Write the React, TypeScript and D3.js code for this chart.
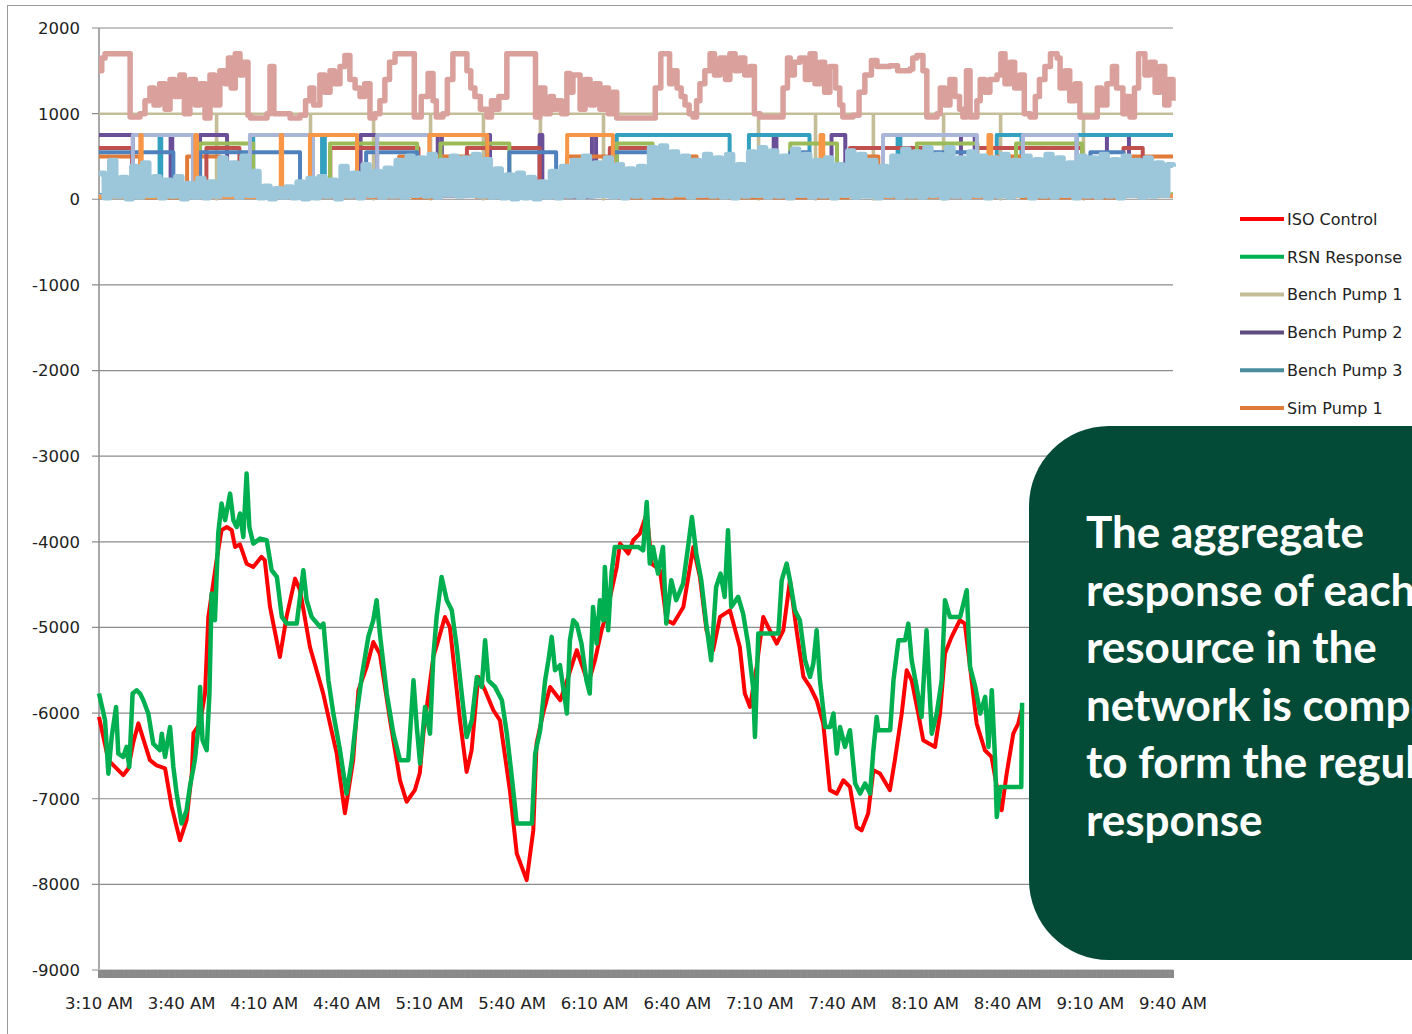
import React from "react";
import * as d3 from "d3";

// ---------- DATA ----------
const xTickLabels = ["3:10 AM","3:40 AM","4:10 AM","4:40 AM","5:10 AM","5:40 AM","6:10 AM","6:40 AM","7:10 AM","7:40 AM","8:10 AM","8:40 AM","9:10 AM","9:40 AM"];
const xTickMinutes = [0,30,60,90,120,150,180,210,240,270,300,330,360,390];
const yTicks = [2000,1000,0,-1000,-2000,-3000,-4000,-5000,-6000,-7000,-8000,-9000];

// minutes after 3:10 AM, MW
const isoControl: [number, number][] = [[0,-6045],[3.4,-6550],[8.8,-6725],[10.6,-6650],[12.4,-6350],[14.3,-6120],[18.5,-6550],[20.9,-6610],[24,-6645],[26.4,-7095],[29.4,-7485],[31.8,-7250],[33.7,-6700],[34.3,-6235],[36.7,-6120],[38.5,-5770],[39.7,-4877],[42.7,-4215],[44.5,-3865],[46.4,-3826],[48.2,-3865],[49.4,-4060],[51.2,-4030],[53.6,-4255],[56,-4295],[59,-4175],[60.2,-4215],[62.1,-4760],[65.7,-5345],[68.1,-4877],[71.2,-4430],[73,-4565],[76.6,-5228],[81.4,-5770],[86.3,-6470],[89.3,-7170],[92.3,-6550],[94.2,-5735],[97.2,-5460],[99.6,-5170],[102,-5310],[105.7,-6085],[109.3,-6785],[111.7,-7035],[114.7,-6900],[116.5,-6700],[117.8,-6235],[121.4,-5345],[123.2,-5150],[125.6,-4877],[127.4,-4995],[131.1,-6085],[133.5,-6687],[135.3,-6435],[137.7,-5578],[140.2,-5735],[143.2,-5967],[145.6,-6085],[149.2,-6900],[151.7,-7640],[155.3,-7950],[157.7,-7370],[158.9,-6350],[161.3,-6000],[163.8,-5695],[167.5,-5850],[169.2,-5695],[173.5,-5266],[177.7,-5655],[180.1,-5383],[182.5,-5033],[184.3,-4838],[188,-4295],[189.2,-4020],[192.2,-4137],[194,-3982],[196.4,-3904],[198.9,-3670],[200.7,-4254],[203.7,-4332],[206.1,-4916],[208.6,-4955],[212.2,-4760],[215.8,-4060],[218.2,-4410],[220.6,-5033],[223,-5266],[225.5,-4877],[229.1,-4800],[232.7,-5228],[234.5,-5770],[236.4,-5928],[238.8,-5460],[241.2,-4877],[243.6,-5033],[246.1,-5188],[248.5,-5033],[250.9,-4449],[253.3,-5033],[255.8,-5578],[258.2,-5695],[260.6,-5850],[263,-6122],[265.4,-6900],[267.9,-6940],[270.3,-6784],[272.7,-6862],[275.1,-7330],[276.9,-7370],[279.3,-7173],[281.2,-6667],[283.6,-6706],[287.2,-6900],[289,-6550],[291.5,-6005],[293.3,-5500],[295.1,-5617],[297.5,-6005],[299.3,-6317],[303.6,-6395],[305.4,-6005],[307.2,-5305],[309.6,-5110],[312.6,-4916],[314.4,-4955],[316.3,-5460],[318.7,-6122],[321.7,-6434],[324.1,-6512],[326.5,-6940],[327.8,-7135],[329.6,-6706],[332,-6239],[333.8,-6122],[335,-5967]];

const rsnResponse: [number, number][] = [[0,-5772],[2.2,-6084],[3.4,-6707],[4.6,-6279],[6.2,-5928],[7,-6473],[8.8,-6512],[10,-6395],[11,-6629],[12.2,-5772],[13.7,-5733],[14.9,-5772],[16.1,-5850],[17.9,-6005],[19.7,-6356],[22.1,-6434],[22.8,-6240],[24,-6512],[25.8,-6162],[27,-6629],[28.2,-6940],[30,-7290],[31.8,-7135],[33,-6862],[34.8,-6550],[36.1,-6162],[36.7,-5694],[37.6,-6317],[39.1,-6434],[40.1,-5772],[40.9,-4604],[42.1,-4916],[43.3,-3904],[44.5,-3553],[45.8,-3747],[47.6,-3437],[48.8,-3747],[50,-3826],[51.2,-3670],[52.4,-3943],[53.6,-3203],[54.6,-3826],[56,-4021],[58.5,-3962],[60.9,-3982],[62.7,-4332],[64.6,-4410],[66.4,-4877],[68.2,-4955],[71.8,-4955],[74.2,-4332],[75.4,-4682],[77.2,-4877],[80.3,-4995],[81.5,-4955],[83.3,-5617],[85.1,-6005],[87.5,-6434],[89.9,-6940],[91.8,-6550],[93.6,-6005],[95.4,-5578],[97.8,-5110],[99.6,-4916],[100.8,-4682],[102,-5072],[104.5,-5772],[106.9,-6240],[109.3,-6550],[112.3,-6550],[114.2,-5617],[115.4,-6162],[116.6,-6590],[118.4,-5928],[120.2,-6240],[121.4,-5345],[122.6,-4877],[124.4,-4410],[126.3,-4682],[128.1,-4799],[129.9,-5228],[131.7,-5772],[133.5,-6279],[135.4,-6084],[137.2,-5578],[139,-5694],[140.2,-5150],[141.4,-5617],[143.8,-5694],[146.3,-5850],[148.1,-6240],[149.9,-6745],[151.7,-7290],[157.2,-7290],[158.4,-6473],[160.2,-6200],[162,-5617],[163.2,-5383],[164.4,-5110],[165.6,-5500],[167.4,-5441],[169.9,-6005],[171,-5150],[172.2,-4916],[173.5,-4960],[175.2,-5188],[177,-5617],[178.2,-5772],[179.4,-4760],[180.7,-5188],[181.9,-4682],[183.1,-4916],[183.7,-4293],[184.9,-5033],[186.1,-4371],[187.3,-4060],[195.8,-4060],[197.6,-4099],[198.9,-3534],[200,-4254],[201.2,-4060],[203,-4371],[204.8,-4060],[206,-4955],[207.8,-4449],[209.6,-4682],[212.1,-4488],[213.9,-4060],[215.3,-3710],[216.9,-4138],[218.7,-4449],[220.5,-4955],[222.3,-5383],[224.1,-4527],[225.7,-4371],[227.2,-4643],[228.4,-3865],[229.6,-4760],[232.1,-4643],[233.9,-4838],[235.7,-5188],[237.5,-5694],[238.2,-6279],[239.4,-5072],[246.7,-5072],[247.9,-4449],[249.7,-4254],[250.9,-4449],[252.7,-4799],[254.5,-4916],[256.4,-5383],[258.2,-5578],[259.4,-5422],[260.6,-5033],[261.8,-5617],[263.7,-6162],[265.5,-6162],[266.7,-6005],[267.9,-6473],[269.1,-6162],[270.9,-6395],[272.7,-6200],[274.6,-6823],[276.4,-6940],[278.2,-6823],[280,-6940],[281.2,-6434],[282.4,-6045],[283,-6200],[287.3,-6200],[288.5,-5617],[290.3,-5150],[292.7,-5150],[293.9,-4955],[295.1,-5383],[296.9,-5694],[298.7,-6045],[300.5,-5033],[302.4,-6240],[304.2,-6005],[306,-5617],[307.2,-4682],[309,-4877],[312.7,-4877],[315.1,-4565],[316.3,-5461],[318.2,-5694],[320,-6005],[321.8,-5811],[323,-6395],[324.2,-5733],[325.4,-6550],[326,-7213],[327.3,-6862],[334.9,-6862],[335.2,-5880]];

// step series: [minute, value]
const benchPump1: [number, number][] = [[0,1000],[42.5,0],[42.9,1000],[76.6,0],[77,1000],[99.5,0],[99.9,1000],[120.2,0],[120.6,1000],[139.4,0],[139.8,1000],[160.1,0],[160.5,1000],[183,0],[183.4,1000],[239.3,0],[239.7,1000],[260,0],[260.4,1000],[281,0],[281.4,1000],[306.5,0],[306.9,1000],[327.2,0],[327.6,1000],[357.3,0],[357.7,1000],[390,1000]];
const benchPump2: [number, number][] = [[0,750],[12.3,40],[26,750],[26.6,40],[36.7,750],[46.5,50],[95,750],[101,40],[123,750],[124.5,60],[141,750],[142,60],[160,750],[161,30],[179,750],[180.5,60],[245,750],[246,40],[266,750],[271,50],[313,750],[318,60],[366,750],[374,40],[390,40]];
const benchPump3: [number, number][] = [[0,50],[22,750],[22.6,50],[55,750],[56,40],[81,750],[82,40],[188,750],[229,60],[236,750],[258,40],[290,750],[291,40],[326,750],[335,60],[355,750],[390,750]];
const simPump1: [number, number][] = [[0,500],[14.9,20],[32,500],[44,30],[109,500],[114,20],[121,500],[137,30],[170,500],[186,20],[215,500],[217,20],[272,500],[283,30],[326,500],[335,20],[372,500],[390,500]];
const simPump2: [number, number][] = [[0,600],[12,40],[39,600],[51,50],[84,600],[116,40],[133.6,600],[160,60],[185.5,600],[201,50],[272.7,600],[299,40],[318.8,600],[357,50],[372,600],[379,40],[390,40]];
const simPump3: [number, number][] = [[0,30],[36.7,650],[56,40],[83.9,650],[115.5,60],[124,650],[149,50],[188,650],[201,40],[251,650],[268,50],[297,650],[319,40],[333,650],[357,60],[390,60]];
const simPump4: [number, number][] = [[0,550],[27,40],[36.7,550],[73,60],[97,550],[115.5,50],[149,550],[166,40],[186.6,550],[201,60],[251,550],[258,40],[301.7,550],[318.8,60],[360,550],[372,40],[390,40]];
const simPump5: [number, number][] = [[0,40],[12.3,750],[34.1,60],[54.8,750],[77.7,50],[101,750],[120,40],[284.7,750],[318.8,60],[335.5,750],[355,40],[390,40]];
const simPump6: [number, number][] = [[0,30],[15,750],[15.5,30],[35,750],[35.6,30],[66,750],[66.5,30],[76.6,750],[93.7,40],[120,750],[141,50],[170,750],[186.6,40],[262,750],[263,40],[323,750],[324,40],[390,40]];
// light blue resource, sampled every 2 minutes
const lightBlueStepMin = 2;
const lightBlueValues = [
  300,20,450,40,250,10, 380,30,420,50,260, 20,220,40,260,10,180,30,240,20,200,
  40,480,60,420,30,500,50,320, 20,150,10,120,30,140,20,200,10, 240,20,260,40,220,10,380,
  40,300,20,400,50,320,30,360,40,450,30, 500,50,480,40,520,30,450,60,500,40,
  480,50,520,40,460,30,350,20,280,10, 300,20,250,10,200,30,320,20,380,40,
  450,30,500,40,420,50,480,30,400, 20,350,40,380,30,600,50,620,
  40,550,60,500,30,450,50,520,40,480, 30,520,20,400,40,550,50,600,
  30,560,40,500,20,580,50,520, 30,450,40,480,20,400,50,560,
  30,520,40,450,20,380,50,500,30, 580,40,550,30,600,50,520,20,
  600,40,480,30,550,50,500,20,480, 40,520,30,450,50,500,20,460,40,
  520,30,480,50,420,20,500,40,480, 30,520,40,460,20,500,50,450,30,480,40,420,50,400,380];
// pink resource
const pinkResource: [number, number][] = [[0,1500],[1,1650],[2.2,1700],[10.5,1700],[11.3,960],[14.9,1000],[16.7,1150],[18.5,1300],[20,1100],[22,1350],[24,1050],[25.8,1400],[27.5,1200],[29.4,1450],[31,1000],[33,1400],[35,1100],[36.7,1350],[38.5,950],[40.3,1450],[42,1100],[43.9,1500],[45.8,1350],[47,1650],[48,1300],[49.5,1700],[51.2,1450],[52.5,1600],[54.1,980],[55,950],[58.5,950],[61,1000],[62.1,1550],[63.5,1000],[65.7,1000],[69.4,950],[73,980],[75,1150],[76.6,1300],[78,1100],[80.2,1450],[82,1250],[83.9,1500],[85.5,1350],[87.5,1550],[89.3,1680],[91.1,1400],[93,1300],[94.8,1200],[96.5,1350],[98.4,950],[100.2,1000],[102,1150],[103.8,1400],[105.5,1600],[107.5,1700],[114,1700],[114.5,960],[117,1200],[119.5,1470],[121.3,1150],[122.5,960],[124.9,1000],[126.5,1400],[128.5,1700],[131.1,1700],[133.6,1500],[135,1300],[136.5,1200],[138.5,1050],[140.9,960],[142.5,1150],[143.8,1050],[145.2,1200],[146.7,1190],[148.1,1700],[157.6,1700],[158.5,960],[160.1,1300],[161.9,1000],[163.8,1200],[165,1050],[166.3,1150],[168,1000],[169.9,1470],[171,1250],[172.1,1450],[174.7,1050],[176.5,1400],[178.3,1100],[180,1350],[181.9,1050],[183.5,1300],[185,1000],[186.6,1250],[188,950],[200.1,950],[202,1300],[204,1700],[206.3,1700],[207.2,1350],[208.1,1500],[209.9,1300],[211.4,1200],[212.8,1100],[214.3,1000],[215.7,960],[217,1150],[218.2,1350],[220,1500],[221.9,1700],[223.5,1450],[225.5,1650],[227.5,1400],[229.1,1700],[231,1500],[232.7,1650],[234.5,1450],[236.4,1550],[238,1000],[240,960],[247.3,960],[248.4,1300],[250,1650],[251,1450],[252.5,1600],[254.5,1650],[256.5,1400],[258.2,1700],[260,1350],[261.8,1600],[263.5,1250],[265.4,1550],[267.5,1300],[269,1100],[270.1,960],[273.8,980],[276,1250],[278.1,1450],[280.5,1620],[282.5,1550],[287.2,1560],[290,1500],[294.5,1520],[295.5,1650],[297,1680],[299.2,1500],[300.6,960],[304.3,1000],[305.5,1300],[307.2,1100],[309,1400],[310.8,1200],[312.5,1050],[313.7,960],[315,1500],[316.3,960],[318.8,1150],[320,1400],[321.7,1250],[323.5,1400],[326.1,1450],[327.5,1700],[329,1350],[330.8,1600],[332.5,1300],[334.4,1450],[336,1000],[338.1,960],[340,1200],[341.5,1400],[343.5,1550],[345.5,1700],[347.9,1650],[349,1300],[350.8,1500],[352.5,1150],[354.5,1350],[356.2,960],[361.7,960],[362.5,1300],[364,1100],[366,1350],[368,1550],[369.5,1300],[371.8,1000],[373,1200],[374.4,960],[376,1300],[377.5,1700],[379.8,1450],[381.6,1600],[383.5,1250],[385.3,1550],[387,1100],[388.5,1400],[390,1150]];

const legendNames = ["ISO Control","RSN Response","Bench Pump 1","Bench Pump 2","Bench Pump 3","Sim Pump 1"];
const legendColors = ["#ff0000","#00b050","#c4bd97","#5f4b7f","#4a8ca0","#e07b39"];

const calloutLines = ["The aggregate","response of each","resource in the","network is composed","to form the regulation","response"];

// ---------- CHART ----------
export default function App() {
  const W = 1412, H = 1034;
  const x = d3.scaleLinear().domain([0, 390]).range([99, 1173]);
  const y = d3.scaleLinear().domain([-9000, 2000]).range([970, 28]);
  const lineLin = d3.line<[number, number]>().x(d => x(d[0])).y(d => y(d[1])).curve(d3.curveLinear);
  const lineStep = d3.line<[number, number]>().x(d => x(d[0])).y(d => y(d[1])).curve(d3.curveStepAfter);
  const lightBlue: [number, number][] = lightBlueValues.map((v, i) => [Math.min(i * lightBlueStepMin, 390), v]);

  const stepSeries: { data: [number, number][]; color: string; w: number }[] = [
    { data: benchPump1, color: "#c4bd97", w: 2.5 },
    { data: benchPump2, color: "#6a4f98", w: 4 },
    { data: benchPump3, color: "#34a0c0", w: 4 },
    { data: simPump1, color: "#e07b39", w: 4 },
    { data: simPump2, color: "#c0504d", w: 4 },
    { data: simPump3, color: "#9bbb59", w: 4 },
    { data: simPump4, color: "#4f81bd", w: 4 },
    { data: simPump5, color: "#a9b6d8", w: 4 },
    { data: simPump6, color: "#f79646", w: 4 },
    { data: lightBlue, color: "#9cc7da", w: 6 },
    { data: pinkResource, color: "#d9a09c", w: 5.5 },
  ];
  const font = "'DejaVu Sans', sans-serif";
  const axisTicks = d3.range(0, 390.25, 0.5);

  return (
    <svg width={W} height={H} style={{ position: "absolute", left: 0, top: 0 }}>
      <rect x={0} y={0} width={W} height={H} fill="#fff" />
      <rect x={7.5} y={5.5} width={1420} height={1040} fill="none" stroke="#9a9a9a" strokeWidth={1} />
      {/* gridlines */}
      {yTicks.map(t => (
        <line key={t} x1={92} x2={1173} y1={y(t)} y2={y(t)} stroke="#8c8c8c" strokeWidth={1.2} />
      ))}
      {/* y axis */}
      <line x1={99} x2={99} y1={y(2000)} y2={y(-9000)} stroke="#8c8c8c" strokeWidth={1.5} />
      {yTicks.map(t => (
        <text key={"l" + t} x={80} y={y(t)} dy="0.36em" textAnchor="end" fontFamily={font} fontSize={16.5} fill="#222">{t}</text>
      ))}
      {/* x axis: dense category ticks */}
      <line x1={99} x2={1173} y1={969.5} y2={969.5} stroke="#d0d0d0" strokeWidth={1} />
      {axisTicks.map(m => (
        <line key={"m" + m} x1={x(m)} x2={x(m)} y1={970} y2={978} stroke="#8a8a8a" strokeWidth={2} />
      ))}
      {xTickLabels.map((l, i) => (
        <text key={l} x={x(xTickMinutes[i])} y={1009} textAnchor="middle" fontFamily={font} fontSize={16.5} fill="#222">{l}</text>
      ))}
      {/* resource series */}
      {stepSeries.map((s, i) => (
        <path key={"s" + i} d={lineStep(s.data) || ""} fill="none" stroke={s.color} strokeWidth={s.w} strokeLinejoin="round" />
      ))}
      <path d={lineLin(isoControl) || ""} fill="none" stroke="#ff0000" strokeWidth={4} strokeLinejoin="round" />
      <path d={lineLin(rsnResponse) || ""} fill="none" stroke="#00b050" strokeWidth={4.5} strokeLinejoin="round" />
      {/* legend */}
      {legendNames.map((n, i) => (
        <g key={n} transform={`translate(0, ${219 + i * 37.8})`}>
          <line x1={1240} x2={1284} y1={0} y2={0} stroke={legendColors[i]} strokeWidth={4} />
          <text x={1287} y={0} dy="0.36em" fontFamily={font} fontSize={16} fill="#222">{n}</text>
        </g>
      ))}
      {/* callout */}
      <rect x={1029} y={426} width={600} height={534} rx={80} ry={80} fill="#034b36" />
      {calloutLines.map((l, i) => (
        <text key={l} x={1086} y={548 + i * 57.6} fontFamily="Lato, sans-serif" fontWeight={700} fontSize={44} fill="#fff">{l}</text>
      ))}
    </svg>
  );
}
